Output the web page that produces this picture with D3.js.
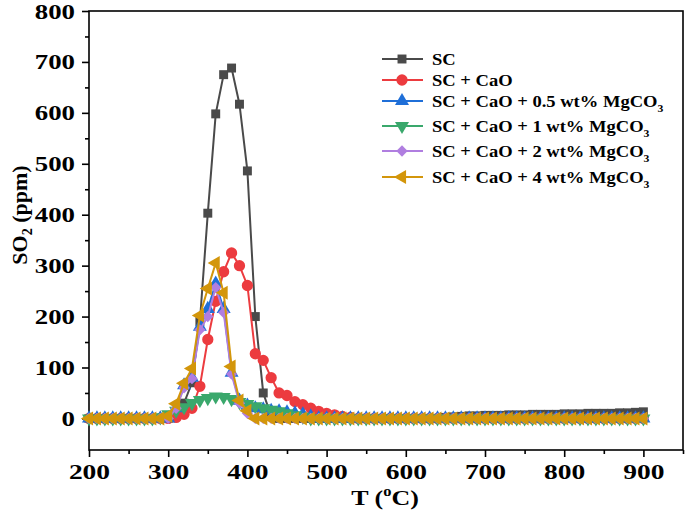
<!DOCTYPE html>
<html><head><meta charset="utf-8">
<script src="https://cdn.jsdelivr.net/npm/d3@7"></script>
<style>body{margin:0;background:#fff}svg{display:block}</style>
</head><body><svg id="c" width="685" height="515"></svg>
<script>
const temps = [200,210,220,230,240,250,260,270,280,290,300,310,320,330,340,350,360,370,380,390,400,410,420,430,440,450,460,470,480,490,500,510,520,530,540,550,560,570,580,590,600,610,620,630,640,650,660,670,680,690,700,710,720,730,740,750,760,770,780,790,800,810,820,830,840,850,860,870,880,890,900];
const sc = [0,0,0,0,0,0,0,0,0,0, 0,5,30,70,190,403,598,675,688,617,486,200,50,5,0, 0,0,0,0,0,0,0,0,0,0,0,0,0,0,0,0,0,0,0,0, 2,3,4,5,5,6,6,6,7,7,7,8,8,8,8,9,9,9,10,10,10,10,11,11,12,13];
const scCaO = [0,0,0,0,0,0,0,0,0,0, 0,2,8,20,63,155,230,288,325,300,261,127,114,80,50,45,33,27,20,14,10,7,4,2,0, 0,0,0,0,0,0,0,0,0,0,0,0,0,0,0,0,0,0,0,0,0,0,0,0,0,0,0,0,0,0,0,0,0,0,0,0];
const mg05 = [0,0,0,0,0,0,0,0,0,0, 0,20,65,80,180,215,265,215,90,35,25,20,18,15,14,12,10,8,4,0, 0,0,0,0,0,0,0,0,0,0,0,0,0,0,0,0,0,0,0,0,0,0,0,0,0,0,0,0,0,0,0,0,0,0,0,0,0,0,0,0,0];
const mg1 = [0,0,0,0,0,0,0,0,0, 2,8,15,22,30,36,40,43,42,38,32,28,24,20,17,14,10,6,3,0, 0,0,0,0,0,0,0,0,0,0,0,0,0,0,0,0,0,0,0,0,0,0,0,0,0,0,0,0,0,0,0,0,0,0,0,0,0,0,0,0,0,0];
const mg2 = [0,0,0,0,0,0,0,0,0,0, 0,20,60,78,174,200,257,208,87,30,10,0, 0,0,0,0,0,0,0,0,0,0,0,0,0,0,0,0,0,0,0,0,0,0,0,0,0,0,0,0,0,0,0,0,0,0,0,0,0,0,0,0,0,0,0,0,0,0,0,0,0];
const mg4 = [0,0,0,0,0,0,0,0,0,0, 5,29,69,98,202,255,305,247,102,35,15,0, 0,0,0,0,0,0,0,0,0,0,0,0,0,0,0,0,0,0,0,0,0,0,0,0,0,0,0,0,0,0,0,0,0,0,0,0,0,0,0,0,0,0,0,0,0,0,0,0,0];
const seriesNames = ["SC","SC + CaO","SC + CaO + 0.5 wt% MgCO","SC + CaO + 1 wt% MgCO","SC + CaO + 2 wt% MgCO","SC + CaO + 4 wt% MgCO"];
const seriesSub = ["","","3","3","3","3"];
const seriesColors = ["#4a4a4a","#ec3b3f","#1f6fd8","#3aa86c","#b07ee0","#d3960b"];
const xTicks = [200,300,400,500,600,700,800,900];
const yTicks = [0,100,200,300,400,500,600,700,800];

const allValues = [sc, scCaO, mg05, mg1, mg2, mg4];
const svg = d3.select("#c");
const L = 89, R = 683, T = 11, B = 450;
const x = d3.scaleLinear().domain([200, 950]).range([L, R]);
const y = d3.scaleLinear().domain([-62, 800]).range([B, T]);
const font = "'Liberation Serif','Times New Roman',serif";

// frame
svg.append("rect").attr("x", L).attr("y", T).attr("width", R - L).attr("height", B - T)
  .attr("fill", "none").attr("stroke", "#000").attr("stroke-width", 1.6);

// axes
const xAxis = d3.axisBottom(x).tickValues(xTicks).tickSize(7).tickPadding(6).tickFormat(d3.format("d"));
const xMinor = d3.axisBottom(x).tickValues([250,350,450,550,650,750,850,950]).tickSize(4).tickFormat("");
const yAxis = d3.axisLeft(y).tickValues(yTicks).tickSize(7).tickPadding(5).tickFormat(d3.format("d"));
const yMinor = d3.axisLeft(y).tickValues([50,150,250,350,450,550,650,750]).tickSize(4).tickFormat("");
function styleAxis(g){ g.select(".domain").remove(); g.selectAll("line").attr("stroke","#000").attr("stroke-width",1.6);
  g.selectAll("text").attr("font-family",font).attr("font-weight","bold").attr("font-size",22).attr("fill","#000"); }
svg.append("g").attr("transform",`translate(0,${B})`).call(xAxis).call(styleAxis)
  .selectAll("text").attr("transform","scale(1.25,1)");
svg.append("g").attr("transform",`translate(0,${B})`).call(xMinor).call(styleAxis);
svg.append("g").attr("transform",`translate(${L},0)`).call(yAxis).call(styleAxis)
  .selectAll("text").attr("x",0).attr("transform","translate(-14,0) scale(1.22,1)");
svg.append("g").attr("transform",`translate(${L},0)`).call(yMinor).call(styleAxis);

// titles
const xt = svg.append("text").attr("transform","translate(385,505) scale(1.18,1)").attr("text-anchor","middle")
  .attr("font-family",font).attr("font-weight","bold").attr("font-size",22);
xt.append("tspan").text("T (");
xt.append("tspan").text("o").attr("font-size",14).attr("dy",-9);
xt.append("tspan").text("C)").attr("dy",9);
const yt = svg.append("text").attr("transform","translate(27,215) rotate(-90)").attr("text-anchor","middle")
  .attr("font-family",font).attr("font-weight","bold").attr("font-size",22);
yt.append("tspan").text("SO");
yt.append("tspan").text("2").attr("font-size",14).attr("dy",5);
yt.append("tspan").text(" (ppm)").attr("dy",-5);

// markers
const symbols = [
  {t:d3.symbolSquare, s:80, r:0},
  {t:d3.symbolCircle, s:100, r:0},
  {t:d3.symbolTriangle, s:85, r:0},
  {t:d3.symbolTriangle, s:85, r:180},
  {t:d3.symbolSquare, s:64, r:45},
  {t:d3.symbolTriangle, s:85, r:-90}
];
const line = d3.line().x(d => x(d[0])).y(d => y(d[1]));
allValues.forEach((vals, i) => {
  const pts = temps.map((t, j) => [t, vals[j]]);
  const g = svg.append("g");
  g.append("path").datum(pts).attr("d", line).attr("fill","none")
    .attr("stroke", seriesColors[i]).attr("stroke-width", 2);
  g.selectAll("path.m").data(pts).join("path").attr("class","m")
    .attr("d", d3.symbol().type(symbols[i].t).size(symbols[i].s))
    .attr("transform", d => `translate(${x(d[0])},${y(d[1])}) rotate(${symbols[i].r})`)
    .attr("fill", seriesColors[i]);
});

// legend
const legY = [59, 80, 101, 126, 151, 177];
seriesNames.forEach((n, i) => {
  const g = svg.append("g").attr("transform", `translate(0,${legY[i]})`);
  g.append("line").attr("x1",382).attr("x2",423).attr("y1",0).attr("y2",0)
    .attr("stroke",seriesColors[i]).attr("stroke-width",2);
  g.append("path").attr("d", d3.symbol().type(symbols[i].t).size(symbols[i].s))
    .attr("transform",`translate(402,0) rotate(${symbols[i].r})`).attr("fill",seriesColors[i]);
  const t = g.append("text").attr("transform","translate(432,6) scale(1.06,1)").attr("font-family",font)
    .attr("font-weight","bold").attr("font-size",17.5).attr("fill","#000");
  t.append("tspan").text(n);
  if (seriesSub[i]) t.append("tspan").text(seriesSub[i]).attr("font-size",11).attr("dy",5);
});
</script></body></html>
